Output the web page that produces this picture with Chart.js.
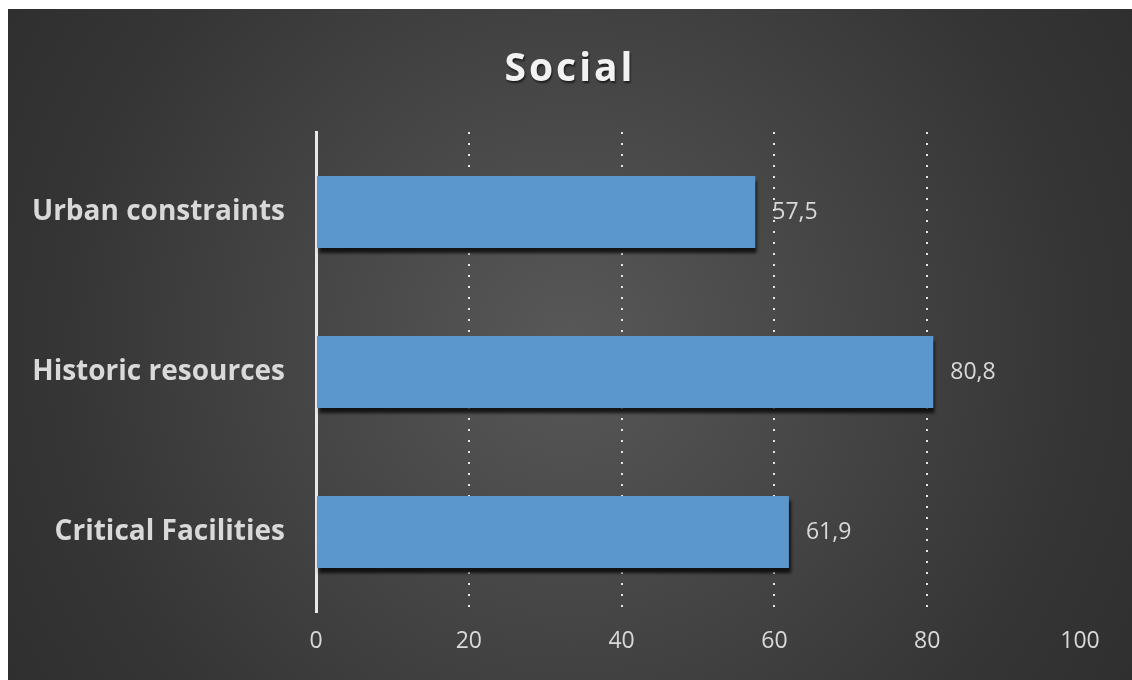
<!DOCTYPE html>
<html>
<head>
<meta charset="utf-8">
<script src="https://cdn.jsdelivr.net/npm/chart.js@4"></script>
<style>
  html, body { margin: 0; padding: 0; background: #ffffff; }
  #wrap { position: absolute; left: 8px; top: 9px; width: 1124px; height: 671px; }
</style>
</head>
<body>
<div id="wrap"><canvas id="chart"></canvas></div>
<script>
const categories = ['Urban constraints', 'Historic resources', 'Critical Facilities'];
const values = [57.5, 80.8, 61.9];
const tickValues = [0, 20, 40, 60, 80, 100];
const chartTitle = 'Social';

const FONT = '"Open Sans", Lato, sans-serif';

// radial grey backdrop, like the office "dark" chart style
const backdrop = {
    id: 'backdrop',
    beforeDraw(chart) {
        const { ctx, width, height } = chart;
        const cx = width * 0.5, cy = height * 0.5;
        const g = ctx.createRadialGradient(cx, cy, 0, cx, cy, 680);
        g.addColorStop(0, '#585858');
        g.addColorStop(0.75, '#353535');
        g.addColorStop(1, '#2e2e2e');
        ctx.save();
        ctx.fillStyle = g;
        ctx.fillRect(0, 0, width, height);
        ctx.restore();
    }
};

// title drawn by hand so it can be letter-spaced
const spacedTitle = {
    id: 'spacedTitle',
    afterDraw(chart) {
        const ctx = chart.ctx;
        ctx.save();
        ctx.font = 'bold 39px ' + FONT;
        ctx.letterSpacing = '3px';
        ctx.textAlign = 'center';
        ctx.textBaseline = 'middle';
        ctx.shadowColor = 'rgba(0,0,0,0.6)';
        ctx.shadowOffsetX = 1;
        ctx.shadowOffsetY = 2;
        ctx.shadowBlur = 2;
        ctx.fillStyle = '#f2f2f2';
        ctx.fillText(chartTitle, chart.width / 2, 61);
        ctx.restore();
    }
};

const barShadow = {
    id: 'barShadow',
    beforeDatasetsDraw(chart) {
        const ctx = chart.ctx;
        ctx.save();
        ctx.shadowColor = 'rgba(0,0,0,0.75)';
        ctx.shadowBlur = 3;
        ctx.shadowOffsetX = 2;
        ctx.shadowOffsetY = 5;
    },
    afterDatasetsDraw(chart) {
        chart.ctx.restore();
    }
};

const valueLabels = {
    id: 'valueLabels',
    afterDatasetsDraw(chart) {
        const ctx = chart.ctx;
        const meta = chart.getDatasetMeta(0);
        ctx.save();
        ctx.font = '23px ' + FONT;
        ctx.fillStyle = '#d9d9d9';
        ctx.textAlign = 'left';
        ctx.textBaseline = 'middle';
        meta.data.forEach((bar, i) => {
            const txt = String(values[i]).replace('.', ',');
            ctx.fillText(txt, bar.x + 17, bar.y);
        });
        ctx.restore();
    }
};

new Chart(document.getElementById('chart'), {
    type: 'bar',
    data: {
        labels: categories,
        datasets: [{
            data: values,
            backgroundColor: '#5b97cc',
            borderWidth: 0,
            barPercentage: 0.45,
            categoryPercentage: 1
        }]
    },
    options: {
        indexAxis: 'y',
        responsive: true,
        maintainAspectRatio: false,
        animation: false,
        layout: { padding: { left: 0, right: 52, top: 123, bottom: 0 } },
        plugins: {
            legend: { display: false },
            tooltip: { enabled: false },
            title: { display: false }
        },
        scales: {
            x: {
                min: 0,
                max: 100,
                afterBuildTicks(scale) {
                    scale.ticks = tickValues.map(v => ({ value: v }));
                },
                afterFit(scale) { scale.height = 68; },
                ticks: {
                    color: '#d9d9d9',
                    font: { family: FONT, size: 23 },
                    padding: 16,
                    maxRotation: 0
                },
                grid: {
                    drawTicks: false,
                    lineWidth: 2,
                    color: ctx => (ctx.tick && (ctx.tick.value === 0 || ctx.tick.value === 100)) ? 'rgba(0,0,0,0)' : '#e6e6e6'
                },
                border: { display: false, dash: [2, 9] }
            },
            y: {
                afterFit(scale) { scale.width = 308; },
                ticks: {
                    color: '#d9d9d9',
                    font: { family: FONT, size: 28, weight: 'bold' },
                    padding: 31
                },
                grid: { display: false, drawTicks: false },
                border: { display: true, color: '#e8e8e8', width: 3, dash: [3, 1] }
            }
        }
    },
    plugins: [backdrop, barShadow, valueLabels, spacedTitle]
});
</script>
</body>
</html>
